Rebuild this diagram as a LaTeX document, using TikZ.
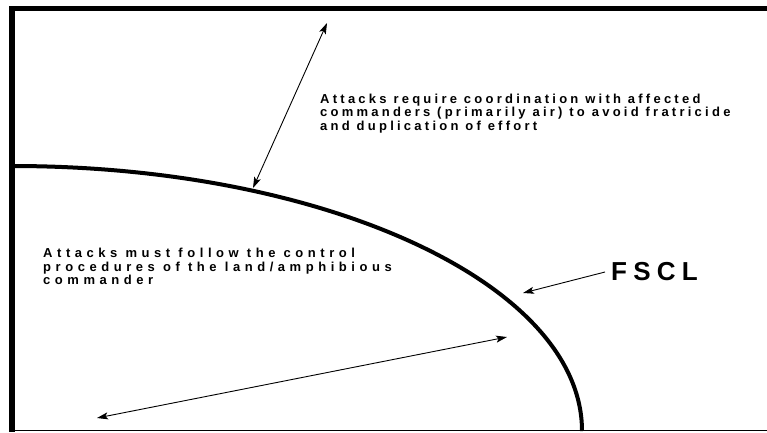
\documentclass[tikz,border=0pt]{standalone}
\usepackage{fontspec}
\setmainfont{Liberation Sans}
\newfontfamily\upperfont[LetterSpace=25]{Liberation Sans}
\newfontfamily\lowerfont[LetterSpace=35]{Liberation Sans}
\newfontfamily\labelfont[LetterSpace=24]{Liberation Sans}
\usetikzlibrary{arrows.meta}

\begin{document}
\begin{tikzpicture}[x=1pt, y=-1pt,
  tip/.style={{Stealth[length=11pt,width=7pt,inset=2.5pt]}-{Stealth[length=11pt,width=7pt,inset=2.5pt]}, line width=0.9pt},
  onetip/.style={-{Stealth[length=11pt,width=7pt,inset=2.5pt]}, line width=0.9pt},
  note/.style={align=left, inner sep=0pt, anchor=north west}]

\useasboundingbox (0,0) rectangle (767,432);

% frame
\draw[line width=5pt] (12,8.5) -- (767,8.5);
\draw[line width=6pt] (12,6) -- (12,432);
\draw[line width=1.5pt] (9,430.5) -- (767,430.5);

% fire support coordination line
\draw[line width=4pt] (12,166) arc[start angle=-90, end angle=0, x radius=570, y radius=265];

% texts
\node[note, font=\upperfont\bfseries\fontsize{13}{13.5}\selectfont] (beyond) at (320,93.5) {Attacks require coordination with affected\\commanders (primarily air) to avoid fratricide\\and duplication of effort};
\node[note, font=\lowerfont\bfseries\fontsize{13}{13.5}\selectfont] (short) at (43,248) {Attacks must follow the control\\procedures of the land/amphibious\\commander};
\node[inner sep=0pt, anchor=west, font=\labelfont\bfseries\fontsize{26}{26}\selectfont] (fscl) at (611,272) {FSCL};

% arrows
\coordinate (toptip) at (327,23);
\coordinate (curvetip) at (253,188);
\coordinate (fscltip) at (523,293);
\coordinate (lefttip) at (97,418);
\coordinate (righttip) at (507,337);

\draw[tip] (curvetip) -- (toptip);
\draw[onetip] (fscl.west) ++(-6,0) -- (fscltip);
\draw[tip] (lefttip) -- (righttip);

\end{tikzpicture}
\end{document}
